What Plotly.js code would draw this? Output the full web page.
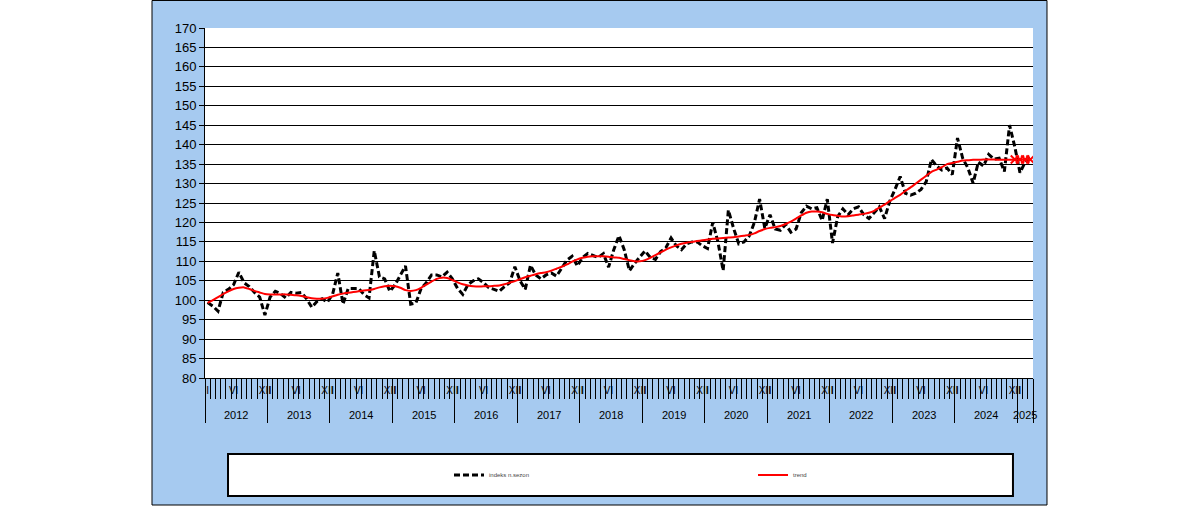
<!DOCTYPE html>
<html><head><meta charset="utf-8">
<script src="https://cdn.plot.ly/plotly-3.0.1.min.js"></script>
<style>html,body{margin:0;padding:0;background:#fff}#chart{width:1200px;height:506px}</style>
</head><body><div id="chart"></div>
<script>
// ---- data ----
const years = [2012,2013,2014,2015,2016,2017,2018,2019,2020,2021,2022,2023,2024,2025];
const monthsPerYear = [12,12,12,12,12,12,12,12,12,12,12,12,12,3];
const romanMonths = ['I','II','III','IV','V','VI','VII','VIII','IX','X','XI','XII'];
const shownMonthLabels = ['I','VI','XII'];
const seriesNames = ['indeks n.sezon', 'trend'];

const indexValues = [
  99.4, 98.5, 97.2, 102.0, 102.8, 104.0, 107.2, 104.5, 103.5, 102.0, 100.8, 96.2,
  100.8, 102.3, 101.7, 100.6, 102.0, 101.8, 102.0, 100.4, 98.2, 99.7, 100.4, 99.5,
  101.5, 107.0, 99.0, 103.0, 103.0, 103.0, 101.5, 100.6, 112.7, 106.0, 105.5, 102.3,
  104.0, 106.5, 108.8, 99.0, 99.3, 103.0, 104.5, 106.5, 106.5, 106.0, 107.2, 105.5,
  103.0, 101.5, 104.0, 105.0, 105.5, 104.5, 103.2, 102.8, 102.3, 103.5, 104.5, 108.6,
  105.0, 102.8, 109.0, 106.5, 105.5, 106.5, 107.0, 106.2, 108.2, 110.3, 111.3, 108.8,
  111.0, 112.0, 111.5, 111.0, 112.0, 108.5, 113.0, 116.6, 113.0, 107.6, 109.5, 111.0,
  112.7, 111.0, 110.5, 112.5, 113.5, 116.0, 114.0, 113.0, 114.5, 115.0, 115.0, 114.0,
  113.3, 120.0, 115.0, 107.6, 123.2, 118.5, 114.5, 115.0, 116.5, 120.0, 126.0, 118.5,
  122.0, 118.3, 118.0, 119.5, 117.5, 118.3, 122.5, 124.2, 123.5, 123.8, 120.5, 126.0,
  114.7, 121.5, 123.5, 122.0, 123.5, 124.0, 122.0, 121.0, 122.5, 124.0, 121.0, 125.5,
  128.5, 131.8, 127.5, 127.0, 127.5, 128.5, 130.5, 136.2, 134.5, 133.5, 134.0, 132.3,
  141.7, 136.5, 134.0, 130.1, 135.5, 134.5, 137.5, 136.3, 136.5, 133.1, 145.0, 139.5,
  132.8, 135.5, 136.5
];

const trendValues = [
  99.3, 100.0, 100.8, 101.6, 102.3, 102.9, 103.2, 103.3, 102.9, 102.4, 102.0, 101.6,
  101.5, 101.5, 101.5, 101.5, 101.4, 101.3, 101.1, 100.8, 100.5, 100.4, 100.4, 100.6,
  101.0, 101.4, 101.7, 101.9, 102.1, 102.3, 102.5, 102.6, 102.9, 103.3, 103.6, 103.7,
  103.6, 103.2, 102.6, 102.4, 102.6, 103.2, 104.0, 104.8, 105.5, 105.8, 105.7, 105.2,
  104.6, 104.1, 103.8, 103.6, 103.5, 103.6, 103.6, 103.7, 103.8, 104.1, 104.5, 104.9,
  105.4, 105.9, 106.3, 106.7, 107.0, 107.2, 107.6, 108.1, 108.6, 109.2, 109.9, 110.5,
  110.9, 111.2, 111.3, 111.3, 111.3, 111.2, 111.0, 110.9, 110.6, 110.3, 110.0, 110.0,
  110.3, 110.9, 111.6, 112.3, 113.0, 113.6, 114.1, 114.5, 114.8, 115.0, 115.2, 115.4,
  115.6, 115.8, 115.9, 116.0, 116.1, 116.2, 116.4, 116.6, 116.8, 117.2, 117.8, 118.3,
  118.6, 118.8, 119.1, 119.6, 120.2, 121.0, 121.8, 122.5, 122.8, 122.8, 122.6, 122.2,
  121.9, 121.7, 121.5, 121.6, 121.8, 122.0, 122.2, 122.5, 123.0, 123.8, 124.6, 125.5,
  126.3, 127.1, 128.1, 129.0, 130.0, 131.0, 132.0, 133.0, 133.6, 134.2, 135.0, 135.3,
  135.6, 135.9, 136.0, 136.1, 136.1, 136.2, 136.2, 136.2, 136.1, 136.1, 136.1, 136.2,
  136.2, 136.2, 136.2
];
const forecastMonths = 4; // last points of the trend shown with markers

// ---- build categories ----
const monthLabel = [];
const yearStart = [];
let n = 0;
years.forEach((y, k) => {
  yearStart.push(n);
  for (let m = 0; m < monthsPerYear[k]; m++) { monthLabel.push(romanMonths[m]); n++; }
});
const N = n;
const idx = monthLabel.map((_, i) => i);
const monthBounds = [];
for (let i = 0; i <= N; i++) monthBounds.push(i - 0.5);
const yearBounds = yearStart.map(s => s - 0.5).concat([N - 0.5]);
const labelPos = [], labelText = [];
monthLabel.forEach((m, i) => { if (shownMonthLabels.includes(m)) { labelPos.push(i); labelText.push(m); } });

const FONT = 'Liberation Sans, Arial, sans-serif';
const xr = [-0.5, N - 0.5];

const traces = [
  { x: idx, y: indexValues, type: 'scatter', mode: 'lines', name: seriesNames[0],
    xaxis: 'x', yaxis: 'y',
    line: { color: '#000000', width: 3, dash: '6px,3px' }, hoverinfo: 'y' },
  { x: idx, y: trendValues, type: 'scatter', mode: 'lines', name: seriesNames[1],
    xaxis: 'x2', yaxis: 'y',
    line: { color: '#FF0000', width: 2, shape: 'spline', smoothing: 0.6 }, hoverinfo: 'y' },
  { x: idx.slice(N - forecastMonths), y: trendValues.slice(N - forecastMonths), type: 'scatter', mode: 'markers',
    name: seriesNames[1], showlegend: false, xaxis: 'x3', yaxis: 'y',
    marker: { symbol: 'x-thin-open', size: 8, color: '#FF0000', line: { color: '#FF0000', width: 2 } }, hoverinfo: 'y' }
];

const annotations = years.map((y, k) => ({
  x: yearStart[k] + monthsPerYear[k] / 2 - 0.5, xref: 'x', y: 0, yref: 'paper',
  yanchor: 'middle', yshift: -37, text: String(y), showarrow: false,
  font: { family: FONT, size: 11, color: '#000' }
}));

const layout = {
  width: 1200, height: 506,
  margin: { l: 205, r: 167, t: 28, b: 128, pad: 0 },
  paper_bgcolor: '#ffffff', plot_bgcolor: 'rgba(0,0,0,0)',
  showlegend: true,
  font: { family: FONT, color: '#000' },
  xaxis: { range: xr, tickmode: 'array', tickvals: monthBounds, showticklabels: false,
    ticks: 'outside', ticklen: 20, tickwidth: 1, tickcolor: '#000',
    showline: true, linecolor: '#000', linewidth: 1, showgrid: false, zeroline: false, fixedrange: true },
  xaxis2: { overlaying: 'x', anchor: 'y', side: 'bottom', range: xr, tickmode: 'array', tickvals: yearBounds,
    showticklabels: false, ticks: 'outside', ticklen: 44, tickwidth: 1, tickcolor: '#000',
    showline: false, showgrid: false, zeroline: false, fixedrange: true },
  xaxis3: { overlaying: 'x', anchor: 'y', side: 'bottom', range: xr, tickmode: 'array', tickvals: labelPos, ticktext: labelText,
    ticks: '', tickangle: 0, showline: false, showgrid: false, zeroline: false, fixedrange: true,
    tickfont: { family: FONT, size: 10, color: '#000' }, ticklabelstandoff: 5 },
  yaxis: { range: [80, 170], tick0: 80, dtick: 5, showgrid: true, gridcolor: '#000', gridwidth: 1,
    showline: true, linecolor: '#000', linewidth: 1, ticks: 'outside', ticklen: 5, tickcolor: '#000',
    tickfont: { family: FONT, size: 13, color: '#000' }, zeroline: false, fixedrange: true },
  legend: { orientation: 'h', x: 0.2947, xanchor: 'left', y: -0.2771, yanchor: 'middle',
    bgcolor: 'rgba(0,0,0,0)', borderwidth: 0, entrywidth: 259, entrywidthmode: 'pixels',
    font: { family: FONT, size: 6, color: '#444' } },
  shapes: [
    { type: 'rect', xref: 'paper', yref: 'paper', x0: -0.0640, x1: 1.0169, y0: -0.3629, y1: 1.0786,
      fillcolor: '#A6CAF0', line: { color: '#000', width: 1 }, layer: 'below' },
    { type: 'rect', xref: 'paper', yref: 'paper', x0: 0, x1: 1, y0: 0, y1: 1,
      fillcolor: '#ffffff', line: { width: 0 }, layer: 'below' },
    { type: 'rect', xref: 'paper', yref: 'paper', x0: 0.0278, x1: 0.9758, y0: -0.3371, y1: -0.2171,
      fillcolor: '#ffffff', line: { color: '#000', width: 2 }, layer: 'below' }
  ],
  annotations: annotations
};

Plotly.newPlot('chart', traces, layout, { displayModeBar: false, staticPlot: true });
</script>
</body></html>
